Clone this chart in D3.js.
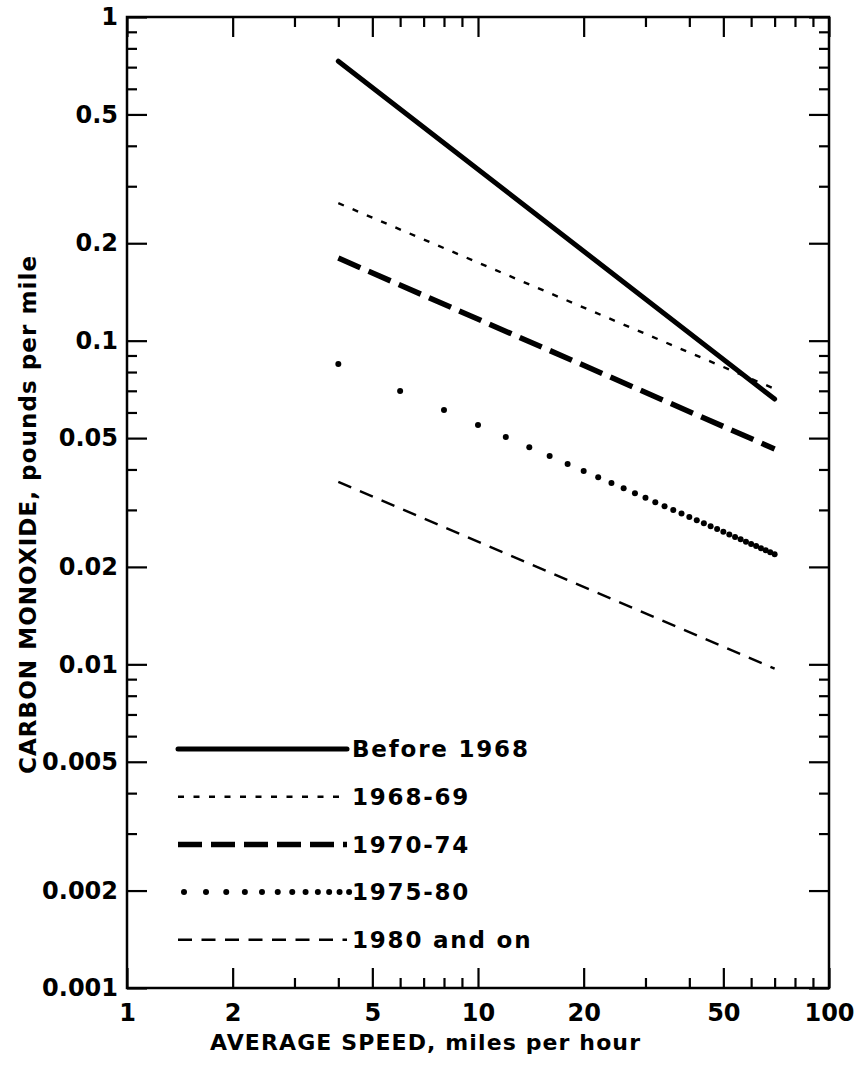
<!DOCTYPE html>
<html>
<head>
<meta charset="utf-8">
<script src="https://cdn.jsdelivr.net/npm/d3@7"></script>
<style>
  body { margin: 0; background: #fff; }
  text { font-family: "DejaVu Sans", sans-serif; font-weight: bold; fill: #000; }
</style>
</head>
<body>
<div id="my_dataviz"></div>
<script>
// chart values
var speeds = [4, 70];
var before1968 = [0.73, 0.066];
var y1968_69 = [0.266, 0.071];
var y1970_74 = [0.18, 0.0463];
var y1975_80 = [0.0847, 0.0219];
var y1980on = [0.0366, 0.0097];

var seriesNames = ["Before 1968", "1968-69", "1970-74", "1975-80", "1980 and on"];

// tick values and labels
var xMajor = [1, 2, 5, 10, 20, 50, 100];
var xLabels = ["1", "2", "5", "10", "20", "50", "100"];
var xMinor = [3, 4, 6, 7, 8, 9, 30, 40, 60, 70, 80, 90];
var yMajor = [0.001, 0.002, 0.005, 0.01, 0.02, 0.05, 0.1, 0.2, 0.5, 1];
var yLabels = ["0.001", "0.002", "0.005", "0.01", "0.02", "0.05", "0.1", "0.2", "0.5", "1"];
var yMinor = [0.003, 0.004, 0.006, 0.007, 0.008, 0.009,
              0.03, 0.04, 0.06, 0.07, 0.08, 0.09,
              0.3, 0.4, 0.6, 0.7, 0.8, 0.9];

// set the dimensions and margins of the graph
var W = 859, H = 1070;
var margin = { top: 17, right: 30, bottom: 82, left: 127 },
    width = W - margin.left - margin.right,
    height = H - margin.top - margin.bottom;

var svg = d3.select("#my_dataviz")
    .append("svg")
    .attr("width", W)
    .attr("height", H)
    .append("g")
    .attr("transform", "translate(" + margin.left + "," + margin.top + ")");

// log scales
var x = d3.scaleLog().domain([1, 100]).range([0, width]);
var y = d3.scaleLog().domain([0.001, 1]).range([height, 0]);

function fmt(values, labels) {
    return function (d) { return labels[values.indexOf(d)]; };
}

// bottom axis, ticks point inward
svg.append("g")
    .attr("transform", "translate(0," + height + ")")
    .call(d3.axisBottom(x).tickValues(xMajor).tickSize(-20).tickPadding(16)
        .tickFormat(fmt(xMajor, xLabels)));
svg.append("g")
    .attr("transform", "translate(0," + height + ")")
    .call(d3.axisBottom(x).tickValues(xMinor).tickSize(-10).tickFormat(""));

// top axis
svg.append("g")
    .call(d3.axisTop(x).tickValues(xMajor).tickSize(-20).tickFormat(""));
svg.append("g")
    .call(d3.axisTop(x).tickValues(xMinor).tickSize(-10).tickFormat(""));

// left axis
var axL = svg.append("g")
    .call(d3.axisLeft(y).tickValues(yMajor).tickSize(-20).tickPadding(9)
        .tickFormat(fmt(yMajor, yLabels)));
svg.append("g")
    .call(d3.axisLeft(y).tickValues(yMinor).tickSize(-10).tickFormat(""));

// right axis
svg.append("g")
    .attr("transform", "translate(" + width + ",0)")
    .call(d3.axisRight(y).tickValues(yMajor).tickSize(-20).tickFormat(""));
svg.append("g")
    .attr("transform", "translate(" + width + ",0)")
    .call(d3.axisRight(y).tickValues(yMinor).tickSize(-10).tickFormat(""));

svg.selectAll(".domain").remove();
svg.selectAll(".tick line").attr("stroke", "#000").attr("stroke-width", 2.2);
svg.selectAll(".tick text")
    .attr("font-size", 24)
    .style("font-family", "'DejaVu Sans', sans-serif")
    .style("font-weight", "bold")
    .attr("fill", "#000");

// frame
svg.append("rect")
    .attr("x", 0).attr("y", 0)
    .attr("width", width).attr("height", height)
    .attr("fill", "none")
    .attr("stroke", "#000")
    .attr("stroke-width", 2.5);

// line styles
var styles = [
    { values: before1968, width: 5, dash: null, cap: "round" },
    { values: y1968_69, width: 2.4, dash: "6,9.5", cap: "butt" },
    { values: y1970_74, width: 5.5, dash: "24,9", cap: "butt" },
    { values: y1975_80, width: 0, dash: "dots", cap: "round" },
    { values: y1980on, width: 2.4, dash: "14,9.5", cap: "butt" }
];

var line = d3.line()
    .x(function (d) { return x(d[0]); })
    .y(function (d) { return y(d[1]); });

styles.forEach(function (s) {
    if (s.dash === "dots") {
        // the original draws this straight line as dots at every 2 mph
        var onLine = d3.scaleLinear()
            .domain(speeds.map(function (d) { return x(d); }))
            .range(s.values.map(function (d) { return y(d); }));
        var dotSpeeds = d3.range(speeds[0], speeds[1] + 1, 2);
        svg.append("g").selectAll("circle")
            .data(dotSpeeds)
            .enter().append("circle")
            .attr("cx", function (d) { return x(d); })
            .attr("cy", function (d) { return onLine(x(d)); })
            .attr("r", 3)
            .attr("fill", "#000");
        return;
    }
    svg.append("path")
        .datum(speeds.map(function (sp, i) { return [sp, s.values[i]]; }))
        .attr("d", line)
        .attr("fill", "none")
        .attr("stroke", "#000")
        .attr("stroke-width", s.width)
        .attr("stroke-linecap", s.cap)
        .attr("stroke-dasharray", s.dash);
});

// legend
var legX0 = 178 - margin.left, legX1 = 347 - margin.left;
var legY0 = 749 - margin.top, legStep = 47.7;
var legend = svg.append("g");

styles.forEach(function (s, i) {
    var ly = legY0 + i * legStep;
    if (s.dash === "dots") {
        var gx = legX0 + 6, gap = 22;
        for (var k = 0; k < 12; k++) {
            legend.append("circle").attr("cx", gx).attr("cy", ly).attr("r", 3).attr("fill", "#000");
            gx += gap;
            gap *= 0.92;
        }
    } else {
        legend.append("line")
            .attr("x1", legX0).attr("x2", legX1)
            .attr("y1", ly).attr("y2", ly)
            .attr("stroke", "#000")
            .attr("stroke-width", s.width)
            .attr("stroke-linecap", s.cap)
            .attr("stroke-dasharray", s.dash);
    }
    legend.append("text")
        .attr("x", legX1 + 5)
        .attr("y", ly)
        .attr("dy", "0.36em")
        .attr("font-size", 23)
        .attr("letter-spacing", 1.8)
        .text(seriesNames[i]);
});

// axis titles
svg.append("text")
    .attr("x", 425 - margin.left)
    .attr("y", 1050 - margin.top)
    .attr("text-anchor", "middle")
    .attr("font-size", 22)
    .attr("textLength", 430)
    .attr("lengthAdjust", "spacing")
    .text("AVERAGE SPEED, miles per hour");

svg.append("text")
    .attr("transform", "translate(" + (28 - margin.left) + "," + (515 - margin.top) + ") rotate(-90)")
    .attr("text-anchor", "middle")
    .attr("dy", "0.36em")
    .attr("font-size", 23)
    .attr("textLength", 518)
    .attr("lengthAdjust", "spacing")
    .text("CARBON MONOXIDE, pounds per mile");
</script>
</body>
</html>
